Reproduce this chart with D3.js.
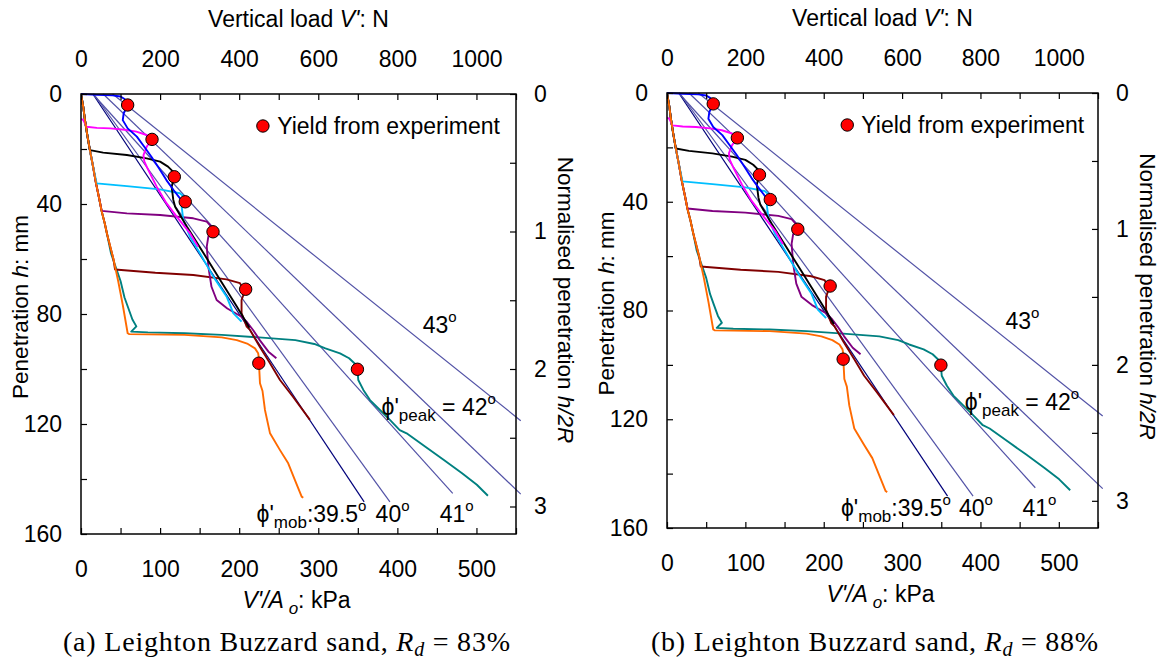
<!DOCTYPE html>
<html><head><meta charset="utf-8">
<script src="https://cdn.jsdelivr.net/npm/d3@7"></script>
<style>
body{margin:0;background:#fff}
svg{display:block}
text{font-family:"Liberation Sans",Arial,sans-serif;fill:#000}
.cap{font-family:"Liberation Serif","Times New Roman",serif}
</style>
</head><body>
<svg id="c" width="1166" height="664"></svg>
<script>
// ---------- data ----------
const xTicksKPa = [0,100,200,300,400,500];
const xMinorKPa = [50,150,250,350,450,550];
const topTicksN = [0,200,400,600,800,1000];
const topMinorN = [100,300,500,700,900,1100];
const yTicksMM = [0,40,80,120,160];
const yMinorMM = [20,60,100,140];
const rTicks = [0,1,2,3];
const rMinor = [0.5,1.5,2.5];

// friction-angle lines: start q at h=0, end point (q, h)
const phiNames  = ["39.5","40","41","42","43"];
const phiStartQ = [15, 16, 15, 28, 40];
const phiEndQ   = [358, 390.6, 470, 556, 556];
const phiEndH   = [148.3, 148.3, 145.2, 145.5, 118.8];

// installation path (q kPa, h mm)
const installQ = [0,3,5,8,11,15,19,23,26,30,33,37,41,44,47,50,53,56,59];
const installH = [0,5,9.5,15,20,26,32.5,38,42.5,47,51,55.5,60,64,68,72.5,77,82,87];

const blueQ = [0,20,40,50,55,58,59,54,52.8,59,70.6,80,89,98.6,108,117,126.6,131];
const blueH = [0,0.3,0.5,0.9,1.8,3,4.1,7,9.5,12.5,15.5,19.2,22.8,27,31.3,34.9,38.5,40.2];

const magentaQ = [0,3,7,20,37,55,70,83,89.8,83,79,80,85,95.7,108,121,138,148];
const magentaH = [9,9.5,11.9,12.3,12.5,13,13.7,14.9,16.5,19.2,22.2,24.5,27.6,33.7,39.7,44.6,50.7,55.5];

const blackQ = [11.4,28,58,83,100,110,116.7,118,114.6,116.7,119,134,155,176,197,213];
const blackH = [20.4,21.3,22.2,23.4,24.6,26.4,28.3,30.1,33.7,38.5,41,48.3,57.9,67.6,77.3,85];

const cyanQ = [19.8,58,100,125,130,131.8,127.3,129.3,137.8,150.4,167.3,184.2,192.5,203];
const cyanH = [32.5,33.5,34.7,36.1,37.3,39.2,41,45.8,51.9,57.9,66.4,73.7,79.7,82.8];

const purpleQ = [26.2,58,100,142,159,165,167,161,159,161,165,171.5,185,203,210,218,226,237,247];
const purpleH = [42.5,43.4,44,45.2,46.4,48.3,50.1,51.9,55.5,62.8,70.1,74.9,78,81,83,86,89.5,93.7,96.1];

const maroonQ = [43,94,142,184,201,205,208,203,203,209.5,213.7,226,239,251.6,268,289.5];
const maroonH = [63.8,65,65.8,67.4,68.8,70.7,71,74.9,79.7,84.6,85.8,91.9,97.9,104,110.1,118.5];

const tealQ = [0,3,5,8,11,15,19,23,26,30,33,38,44,50,55,60,65,70,63.5,84.6,131,178,225,271,295,309,327.5,339,346,349.5,350.6,357,365.4,378,390.6,403,411.7,435,458.4,481.8,500.5,514.5];
const tealH = [0,5,9.5,15,20,26,32.5,38,42.5,47,51,58,63,68,74,78,82,84.5,86.4,86.7,87,87.6,88.5,89.5,90.9,92.5,94.3,96.1,98,100.1,104,107.6,111.3,114.9,118.5,122.2,123.4,128.2,133,137.9,142.1,146.1];

const orangeQ = [61,85,131,178,197,211,220,224,225,225,226.3,229.5,232.6,239,251.6,262,270.5,279,281];
const orangeH = [87.3,87.4,87.6,88.5,89.5,90.9,92.5,94.3,96.1,97.9,105.2,108,114.9,123.4,129.5,134.3,140.4,146.4,146.8];

// yield points
const yieldQ = [59, 89.8, 118, 131.8, 166.9, 208.2, 224.8, 349.5];
const yieldH = [4, 16.5, 30.1, 39.2, 50.1, 71, 97.9, 100.1];

const captions = ["(a) Leighton Buzzard sand, ", "(b) Leighton Buzzard sand, "];
const captionRd = ["83%", "88%"];

// ---------- layout ----------
const panels = [
  {L:81, R:516, T:94, B:534, cap:0, capX:286.5},
  {L:667, R:1098, T:93, B:528, cap:1, capX:874.5}
];

const colors = {
  phi:"#5252a6", phi0:"#00007a", blue:"#0000ff", magenta:"#ff00ff", black:"#000000",
  cyan:"#00bfff", purple:"#800080", maroon:"#800000", teal:"#008080", orange:"#ff6a00"
};

const svg = d3.select("#c");

function zip(q,h){ return q.map((v,i)=>[v,h[i]]); }
function withInstall(q,h){
  const h0 = h[0];
  const pre = zip(installQ,installH).filter(p=>p[1] < h0);
  return pre.concat(zip(q,h));
}

panels.forEach(P=>{
  const g = svg.append("g");
  const x = d3.scaleLinear().domain([0,550]).range([P.L,P.R]);
  const xN = d3.scaleLinear().domain([0,1100]).range([P.L,P.R]);
  const y = d3.scaleLinear().domain([0,160]).range([P.T,P.B]);
  const yR = d3.scaleLinear().domain([0,3.2]).range([P.T,P.B]);
  const line = d3.line().x(d=>x(d[0])).y(d=>y(d[1]));

  const clipId = "clip"+P.cap;
  g.append("clipPath").attr("id",clipId).append("rect")
    .attr("x",P.L).attr("y",P.T-1).attr("width",P.R-P.L+8).attr("height",P.B-P.T+1);
  const plot = g.append("g").attr("clip-path",`url(#${clipId})`);

  // phi lines
  phiNames.forEach((n,i)=>{
    plot.append("path").attr("d",line([[phiStartQ[i],0],[phiEndQ[i],phiEndH[i]]]))
      .attr("fill","none").attr("stroke", i===0?colors.phi0:colors.phi).attr("stroke-width",1.2);
  });

  const series = [
    [zip(tealQ,tealH), colors.teal],
    [withInstall(maroonQ,maroonH), colors.maroon],
    [withInstall(purpleQ,purpleH), colors.purple],
    [withInstall(cyanQ,cyanH), colors.cyan],
    [withInstall(blackQ,blackH), colors.black],
    [zip(magentaQ,magentaH), colors.magenta],
    [zip(blueQ,blueH), colors.blue],
    [zip(installQ,installH).concat(zip(orangeQ,orangeH)), colors.orange]
  ];
  series.forEach(s=>{
    plot.append("path").attr("d",line(s[0])).attr("fill","none")
      .attr("stroke",s[1]).attr("stroke-width",1.9).attr("stroke-linejoin","round");
  });

  // yield dots
  g.selectAll("circle.y").data(zip(yieldQ,yieldH)).enter().append("circle")
    .attr("cx",d=>x(d[0])).attr("cy",d=>y(d[1])).attr("r",6.2)
    .attr("fill","#ff0000").attr("stroke","#000").attr("stroke-width",1);

  // axes
  const fs = "23px";
  const fmtMaj = (maj)=> (d=> maj.includes(d) ? d3.format("d")(d) : "");
  const fmtR = d=> rTicks.includes(d) ? String(d) : "";
  const ax = [
    g.append("g").attr("transform",`translate(0,${P.B})`)
      .call(d3.axisBottom(x).tickValues(xTicksKPa.concat(xMinorKPa).filter(v=>v<=550)).tickFormat(fmtMaj(xTicksKPa)).tickSize(-6).tickPadding(27)),
    g.append("g").attr("transform",`translate(0,${P.T})`)
      .call(d3.axisTop(xN).tickValues(topTicksN.concat(topMinorN)).tickFormat(fmtMaj(topTicksN)).tickSize(-6).tickPadding(27)),
    g.append("g").attr("transform",`translate(${P.L},0)`)
      .call(d3.axisLeft(y).tickValues(yTicksMM.concat(yMinorMM)).tickFormat(fmtMaj(yTicksMM)).tickSize(-6).tickPadding(19)),
    g.append("g").attr("transform",`translate(${P.R},0)`)
      .call(d3.axisRight(yR).tickValues(rTicks.concat(rMinor)).tickFormat(fmtR).tickSize(-6).tickPadding(18))
  ];
  ax.forEach(a=>{
    a.select(".domain").remove();
    a.selectAll("line").attr("stroke","#000").attr("stroke-width",1.2);
    a.selectAll("text").style("font-size",fs).style("font-family","'Liberation Sans',Arial,sans-serif");
  });
  g.append("rect").attr("x",P.L).attr("y",P.T).attr("width",P.R-P.L).attr("height",P.B-P.T)
    .attr("fill","none").attr("stroke","#000").attr("stroke-width",1.5);

  const cx = (P.L+P.R)/2;
  // top title
  const tt = g.append("text").attr("x",cx).attr("y",P.T-67).attr("text-anchor","middle").style("font-size","23px");
  tt.append("tspan").text("Vertical load ");
  tt.append("tspan").style("font-style","italic").text("V'");
  tt.append("tspan").text(": N");
  // bottom title
  const bt = g.append("text").attr("x",cx-2).attr("y",P.B+74).attr("text-anchor","middle").style("font-size","23px");
  bt.append("tspan").style("font-style","italic").text("V'/A");
  bt.append("tspan").style("font-style","italic").style("font-size","17px").attr("dy",6).text(" o");
  bt.append("tspan").attr("dy",-6).text(": kPa");
  // left title
  const lt = g.append("text").attr("transform",`translate(${P.L-53},${(P.T+P.B)/2-7}) rotate(-90)`)
    .attr("text-anchor","middle").style("font-size","22.5px");
  lt.append("tspan").text("Penetration ");
  lt.append("tspan").style("font-style","italic").text("h");
  lt.append("tspan").text(": mm");
  // right title
  const rt = g.append("text").attr("transform",`translate(${P.R+42},${(P.T+P.B)/2-14}) rotate(90)`)
    .attr("text-anchor","middle").style("font-size","22.5px");
  rt.append("tspan").text("Normalised penetration  ");
  rt.append("tspan").style("font-style","italic").text("h/2R");

  // legend
  g.append("circle").attr("cx",x(230)).attr("cy",P.T+32).attr("r",6.2)
    .attr("fill","#ff0000").attr("stroke","#000").attr("stroke-width",1);
  g.append("text").attr("x",x(248)).attr("y",P.T+40).style("font-size","23px").text("Yield from experiment");

  // angle labels
  function deg(q, h, parts){
    const e = g.append("text").attr("x",x(q)).attr("y",y(h)).style("font-size","23px");
    parts(e);
    e.append("tspan").style("font-size","15px").attr("dy",-11).text("o");
  }
  deg(432, 86.9, e=>{ e.append("tspan").text("43"); });
  deg(380, 116.7, e=>{
    e.append("tspan").text("\u03d5'");
    e.append("tspan").style("font-size","17px").attr("dy",6).text("peak");
    e.append("tspan").attr("dy",-6).text(" = 42");
  });
  deg(222, 155.5, e=>{
    e.append("tspan").text("\u03d5'");
    e.append("tspan").style("font-size","17px").attr("dy",6).text("mob");
    e.append("tspan").attr("dy",-6).text(":39.5");
  });
  deg(372.5, 155.5, e=>{ e.append("tspan").text("40"); });
  deg(453.6, 155.5, e=>{ e.append("tspan").text("41"); });

  // caption
  const cap = g.append("text").attr("class","cap").attr("x",P.capX).attr("y",651)
    .attr("text-anchor","middle").style("font-size","28px")
    .attr("textLength",447).attr("lengthAdjust","spacing");
  cap.append("tspan").text(captions[P.cap]);
  cap.append("tspan").style("font-style","italic").text("R");
  cap.append("tspan").style("font-style","italic").style("font-size","20px").attr("dy",5).text("d");
  cap.append("tspan").attr("dy",-5).text(" = "+captionRd[P.cap]);
});
</script>
</body></html>
